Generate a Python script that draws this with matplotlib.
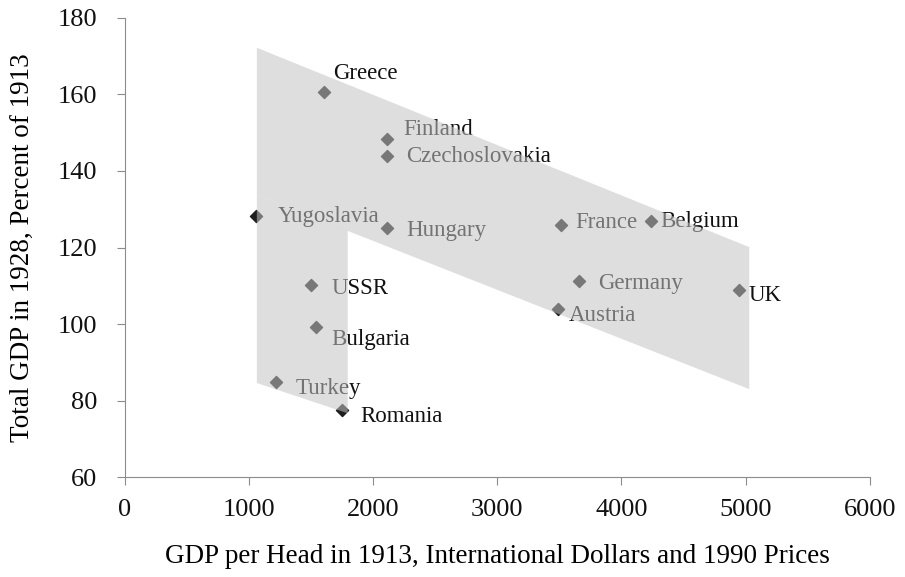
import numpy as np
import matplotlib.pyplot as plt
from matplotlib.patches import Polygon

plt.rcParams['font.family'] = ['Liberation Serif', 'DejaVu Serif']

countries = ['Greece', 'Finland', 'Czechoslovakia', 'Yugoslavia', 'Hungary',
             'France', 'Belgium', 'Germany', 'Austria', 'UK',
             'USSR', 'Bulgaria', 'Turkey', 'Romania']
gdp_head_1913 = [1600, 2110, 2115, 1060, 2110,
                 3510, 4240, 3660, 3485, 4950,
                 1500, 1540, 1215, 1745]
gdp_1928 = [160.7, 148.3, 143.9, 128.2, 125.1,
            125.8, 126.9, 111.2, 103.9, 108.9,
            110.2, 99.2, 84.8, 77.5]

# shaded bands (data corners)
band_upper = [(1063, 172.2), (5030, 120.1), (5030, 83.0), (1063, 133.7)]
band_left = [(1063, 133.7), (1795, 124.4), (1795, 76.7), (1063, 84.6)]

# label offsets in pixels (dx, dy)
offsets = {'Greece': (10, 18), 'Finland': (16, 10), 'Czechoslovakia': (19, 0),
           'Yugoslavia': (21, 0), 'Hungary': (19, -2), 'France': (15, 3),
           'Belgium': (9, 0), 'Germany': (19, -2), 'Austria': (11, -6),
           'UK': (9, -5), 'USSR': (20, -3), 'Bulgaria': (15, -12),
           'Turkey': (20, -6), 'Romania': (19, -6)}

fig = plt.figure(figsize=(9.05, 5.77), dpi=100)
ax = fig.add_axes([0.138, 0.173, 0.823, 0.796])

ax.scatter(gdp_head_1913, gdp_1928, marker='D', s=38, color='#1e1e1e', zorder=2)
for name, x, y in zip(countries, gdp_head_1913, gdp_1928):
    ax.annotate(name, (x, y), xytext=offsets[name], textcoords='offset pixels',
                ha='left', va='center', fontsize=16.5, color='#111111', zorder=2)

for pts in (band_upper, band_left):
    ax.add_patch(Polygon(pts, closed=True, facecolor='#c4c4c4', edgecolor='none',
                         alpha=0.55, zorder=3))

ax.set_xlim(0, 6000)
ax.set_ylim(60, 180)
ax.set_xticks(np.arange(0, 6001, 1000))
ax.set_yticks(np.arange(60, 181, 20))
for s in ['top', 'right']:
    ax.spines[s].set_visible(False)
for s in ['left', 'bottom']:
    ax.spines[s].set_color('#8c8c8c')
ax.tick_params(colors='#8c8c8c', labelcolor='#111111', labelsize=19, length=6)
ax.tick_params(axis='x', pad=10)
ax.tick_params(axis='y', pad=14)

ax.set_xlabel('GDP per Head in 1913, International Dollars and 1990 Prices',
              fontsize=19.5, labelpad=16)
ax.set_ylabel('Total GDP in 1928, Percent of 1913', fontsize=19.5, labelpad=16)

fig.savefig('out.png', dpi=100)
